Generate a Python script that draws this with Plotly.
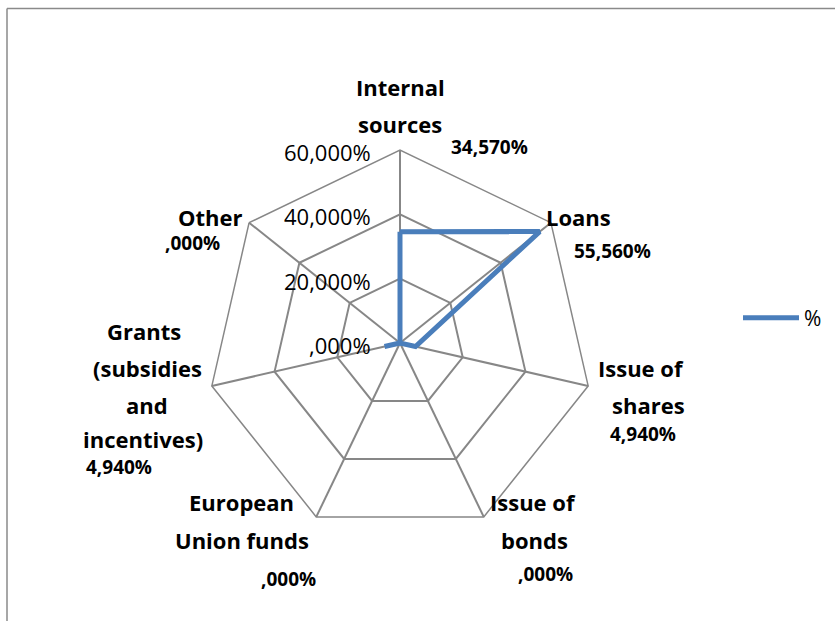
import plotly.graph_objects as go

categories = ["Internal sources", "Loans", "Issue of shares", "Issue of bonds",
              "European Union funds", "Grants (subsidies and incentives)", "Other"]
values = [34.57, 55.56, 4.94, 0.0, 0.0, 4.94, 0.0]
value_labels = ["34,570%", "55,560%", "4,940%", ",000%", ",000%", "4,940%", ",000%"]
radial_ticks = [0, 20, 40, 60]
radial_ticktext = [",000%", "20,000%", "40,000%", "60,000%"]
radial_max = 60
series_name = "%"

W, H = 835, 621
cx, cy, R = 400, 343, 193

fig = go.Figure()
fig.add_trace(go.Scatterpolar(
    r=values + [values[0]],
    theta=categories + [categories[0]],
    mode="lines",
    name=series_name,
    line=dict(color="#4a7ebb", width=5),
    showlegend=True,
))

font_family = "'Open Sans', sans-serif"

# category label lines (text, pixel centre) and value labels
cat_lines = [
    ("Internal", 400, 87), ("sources", 400, 124),
    ("Loans", 578, 217),
    ("Issue of", 641, 368), ("shares", 648, 405),
    ("Issue of", 533, 502), ("bonds", 534, 540),
    ("European", 241, 502), ("Union funds", 242, 540),
    ("Grants", 144, 331), ("(subsidies", 147, 368), ("and", 147, 405), ("incentives)", 143, 439),
    ("Other", 210, 217),
]
val_pos = [(490, 147), (612, 251), (643, 434), (545, 574), (288, 579), (119, 467), (192, 243)]

annotations = []
for t, x, y in cat_lines:
    annotations.append(dict(text="<b>%s</b>" % t, x=x / W, y=1 - y / H, xref="paper", yref="paper",
                            showarrow=False, xanchor="center", yanchor="middle", borderpad=0,
                            font=dict(size=22, color="#000", family=font_family)))
for t, (x, y) in zip(value_labels, val_pos):
    annotations.append(dict(text="<b>%s</b>" % t, x=x / W, y=1 - y / H, xref="paper", yref="paper",
                            showarrow=False, xanchor="center", yanchor="middle", borderpad=0,
                            font=dict(size=19, color="#000", family=font_family)))
# radial tick labels (horizontal, left of the vertical spoke)
for v, t in zip(radial_ticks, radial_ticktext):
    py = cy - R * v / radial_max + 2
    annotations.append(dict(text=t, x=(cx - 28) / W, y=1 - py / H, xref="paper", yref="paper",
                            showarrow=False, xanchor="right", yanchor="middle", borderpad=0,
                            font=dict(size=22, color="#000", family=font_family)))

grid_col = "#878787"
fig.update_layout(
    width=W, height=H,
    margin=dict(l=0, r=0, t=0, b=0),
    paper_bgcolor="white",
    plot_bgcolor="white",
    font=dict(family=font_family, color="#000"),
    polar=dict(
        domain=dict(x=[(cx - R) / W, (cx + R) / W], y=[(H - cy - R) / H, (H - cy + R) / H]),
        gridshape="linear",
        bgcolor="white",
        radialaxis=dict(
            range=[0, radial_max], tickvals=radial_ticks,
            angle=90, showline=False, ticks="", showticklabels=False,
            gridcolor=grid_col, gridwidth=1.5,
        ),
        angularaxis=dict(
            rotation=90, direction="clockwise", showticklabels=False, ticks="",
            linecolor=grid_col, linewidth=1.5, gridcolor=grid_col, gridwidth=1.5,
        ),
    ),
    legend=dict(x=738 / W, y=1 - 318 / H, xanchor="left", yanchor="middle", itemwidth=56,
                font=dict(size=21, color="#000", family=font_family), bgcolor="rgba(0,0,0,0)"),
    annotations=annotations,
    shapes=[
        dict(type="line", xref="paper", yref="paper", x0=7 / W, x1=1.01, y0=1 - 8.5 / H, y1=1 - 8.5 / H,
             line=dict(color="#8a8a8a", width=1.5)),
        dict(type="line", xref="paper", yref="paper", x0=7 / W, x1=7 / W, y0=1 - 8.5 / H, y1=-0.01,
             line=dict(color="#8a8a8a", width=1.5)),
    ],
)

fig.write_html("out.html")
